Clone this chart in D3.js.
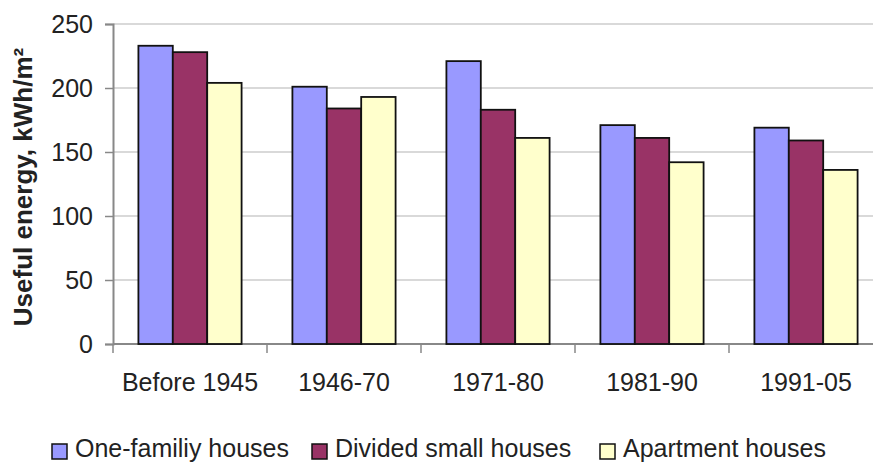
<!DOCTYPE html>
<html>
<head>
<meta charset="utf-8">
<script src="https://cdn.jsdelivr.net/npm/d3@7"></script>
<style>
  body { margin: 0; background: #fff; }
  svg { display: block; font-family: "Liberation Sans", Arial, sans-serif; }
</style>
</head>
<body>
<svg id="chart"></svg>
<script>
// data
const periods = ['Before 1945', '1946-70', '1971-80', '1981-90', '1991-05'];
const seriesNames = ['One-familiy houses', 'Divided small houses', 'Apartment houses'];
const oneFamily = [233, 201, 221, 171, 169];
const dividedSmall = [228, 184, 183, 161, 159];
const apartment = [204, 193, 161, 142, 136];
const yTicks = [0, 50, 100, 150, 200, 250];

const colors = ['#9999ff', '#993366', '#ffffcc'];
const seriesValues = [oneFamily, dividedSmall, apartment];

const width = 873, height = 463;
const margin = { top: 24, right: -10, bottom: 119, left: 113 };

const svg = d3.select('#chart').attr('width', width).attr('height', height);

const x0 = d3.scaleBand()
  .domain(periods)
  .range([margin.left, width - margin.right])
  .paddingInner(0.33)
  .paddingOuter(0.165);

const x1 = d3.scaleBand()
  .domain(seriesNames)
  .range([0, x0.bandwidth()]);

const y = d3.scaleLinear()
  .domain([0, 250])
  .range([height - margin.bottom, margin.top]);

// gridlines
svg.append('g')
  .selectAll('line')
  .data(yTicks.slice(1))
  .join('line')
  .attr('x1', margin.left)
  .attr('x2', width)
  .attr('y1', d => y(d))
  .attr('y2', d => y(d))
  .attr('stroke', '#b3b3b3')
  .attr('stroke-width', 1.2);

// y axis
const yAxis = svg.append('g')
  .attr('transform', `translate(${margin.left},0)`)
  .call(d3.axisLeft(y).tickValues(yTicks).tickSize(8).tickPadding(12));
yAxis.select('.domain').attr('stroke', '#888').attr('stroke-width', 2);
yAxis.selectAll('.tick line').attr('stroke', '#888').attr('stroke-width', 1.5);
yAxis.selectAll('text').attr('font-size', 25).attr('fill', '#222');

// x axis: ticks at band boundaries
const step = x0.step();
const xAxis = svg.append('g')
  .attr('transform', `translate(0,${y(0)})`);
xAxis.append('line')
  .attr('x1', margin.left).attr('x2', width)
  .attr('stroke', '#888').attr('stroke-width', 2);
xAxis.selectAll('.xt')
  .data(periods)
  .join('line')
  .attr('class', 'xt')
  .attr('x1', d => x0(d) - step * 0.165)
  .attr('x2', d => x0(d) - step * 0.165)
  .attr('y1', 0).attr('y2', 9)
  .attr('stroke', '#888').attr('stroke-width', 1.5);
xAxis.selectAll('.xl')
  .data(periods)
  .join('text')
  .attr('class', 'xl')
  .attr('x', d => x0(d) + x0.bandwidth() / 2)
  .attr('y', 47)
  .attr('text-anchor', 'middle')
  .attr('font-size', 25)
  .attr('fill', '#222')
  .text(d => d);

// bars
const groups = svg.append('g')
  .selectAll('g')
  .data(periods)
  .join('g')
  .attr('transform', d => `translate(${x0(d)},0)`);

groups.selectAll('rect')
  .data((p, i) => seriesNames.map((s, j) => ({ s, j, v: seriesValues[j][i] })))
  .join('rect')
  .attr('x', d => x1(d.s))
  .attr('y', d => y(d.v))
  .attr('width', x1.bandwidth())
  .attr('height', d => y(0) - y(d.v))
  .attr('fill', d => colors[d.j])
  .attr('stroke', '#111')
  .attr('stroke-width', 1.8);

// y title
svg.append('text')
  .attr('transform', `translate(32,${(y(0) + y(250)) / 2 + 3}) rotate(-90)`)
  .attr('text-anchor', 'middle')
  .attr('font-size', 26)
  .attr('font-weight', 'bold')
  .attr('fill', '#222')
  .text('Useful energy, kWh/m²');

// legend
const legendX = [52, 312, 600];
const legend = svg.append('g')
  .selectAll('g')
  .data(seriesNames)
  .join('g')
  .attr('transform', (d, i) => `translate(${legendX[i]},444)`);
legend.append('rect')
  .attr('width', 15).attr('height', 15)
  .attr('fill', (d, i) => colors[i])
  .attr('stroke', '#111').attr('stroke-width', 1.5);
legend.append('text')
  .attr('x', 23)
  .attr('y', 13)
  .attr('font-size', 25)
  .attr('fill', '#222')
  .text(d => d);
</script>
</body>
</html>
